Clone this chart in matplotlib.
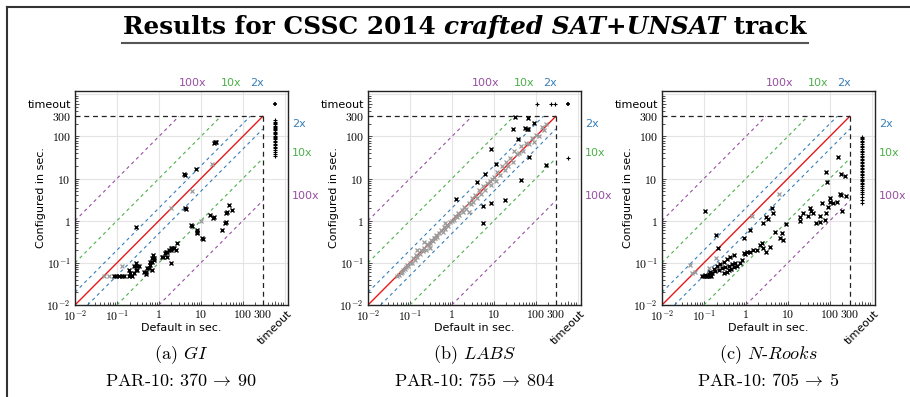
import matplotlib
matplotlib.use('Agg')
import matplotlib.pyplot as plt
from matplotlib.lines import Line2D
from matplotlib.transforms import blended_transform_factory as blend
from matplotlib.ticker import NullFormatter

plt.rcParams['mathtext.fontset'] = 'cm'
plt.rcParams['font.family'] = 'DejaVu Sans'

W, H = 910, 397
TIMEOUT = 600
CUTOFF = 300
LIM = (0.01, 1200)

# ---------------- data ----------------
gi_black_x = [0.28, 0.085, 0.093, 0.11, 0.13, 0.15, 0.19, 0.23, 0.21, 0.25, 0.28, 0.30, 0.19,
              0.25, 0.33, 0.30, 0.28, 0.44, 0.48, 0.48, 0.53, 0.58, 0.69, 0.63, 0.67, 0.69, 0.76,
              0.72, 0.76, 0.63, 1.2, 1.25, 1.4, 1.44, 1.58, 1.73, 1.9, 1.9, 2.1, 2.3, 2.7, 2.5,
              1.9, 1.58, 4.3, 4.5, 3.9, 4.2, 7.5, 21, 22, 23, 5.7, 6.0, 8.2, 8.0, 8.3, 10.8, 11.3,
              17, 20, 21, 32, 37, 39, 40, 43, 46, 56]
gi_black_y = [0.72, 0.05, 0.05, 0.05, 0.05, 0.05, 0.05, 0.05, 0.057, 0.057, 0.068, 0.068, 0.068,
              0.082, 0.082, 0.085, 0.098, 0.062, 0.062, 0.055, 0.075, 0.075, 0.066, 0.107, 0.107,
              0.128, 0.128, 0.154, 0.118, 0.09, 0.14, 0.14, 0.17, 0.185, 0.185, 0.2, 0.2, 0.22,
              0.22, 0.22, 0.29, 0.2, 0.098, 0.14, 1.96, 1.9, 13, 12.5, 17, 70, 73, 72, 0.79, 0.75,
              0.55, 0.5, 0.6, 0.38, 0.36, 1.36, 1.13, 1.2, 0.6, 0.9, 0.95, 1.55, 1.6, 2.3, 1.8]
gi_grey_x = [0.049, 0.064, 0.13, 1.9, 6.2, 18, 10]
gi_grey_y = [0.05, 0.05, 0.082, 1.96, 5.0, 22.6, 1.0]
gi_to_x_y = [240, 225, 210, 195, 180, 170, 160, 150, 140, 130, 120, 112, 105, 98, 92, 86, 80,
             74, 68, 62, 57, 52, 47, 43, 39, 35]          # default timed out
gi_to_y_x = []                                            # configured timed out
gi_both = 1

labs_black_x = [1.25, 3.9, 6.3, 8.7, 11, 5.6, 8.4, 5.4, 19, 44, 38, 28, 32, 55, 62, 66, 66, 89, 70, 173]
labs_black_y = [3.2, 8.4, 12.6, 51, 22, 2.2, 2.66, 0.87, 3.1, 9.5, 88, 147, 296, 156, 150, 150, 275,
                207, 32.5, 20.6]
labs_grey_x = [0.05, 0.055, 0.06, 0.065, 0.07, 0.075, 0.08, 0.085, 0.09, 0.1, 0.11, 0.12, 0.13,
               0.14, 0.15, 0.17, 0.18, 0.2, 0.22, 0.24, 0.25, 0.28, 0.3, 0.32, 0.35, 0.38, 0.4,
               0.42, 0.45, 0.5, 0.55, 0.6, 0.65, 0.7, 0.75, 0.8, 0.9, 1.0, 1.1, 1.2, 1.3, 1.4,
               1.5, 1.7, 1.8, 2.0, 2.2, 2.5, 2.8, 3.0, 3.2, 3.5, 4.0, 4.5, 5.0, 5.5, 6.0, 7.0,
               8.0, 8.5, 9.0, 10, 11, 12, 14, 16, 18, 20, 22, 25, 28, 30, 35, 40, 45, 50, 60,
               70, 80, 90, 100, 120, 140, 160, 180, 0.3, 0.15, 2.5, 0.7, 0.22]
labs_grey_y = [0.048, 0.052, 0.058, 0.06, 0.068, 0.07, 0.08, 0.09, 0.085, 0.1, 0.1, 0.13, 0.12,
               0.15, 0.14, 0.16, 0.2, 0.19, 0.23, 0.2, 0.28, 0.26, 0.3, 0.35, 0.33, 0.4, 0.38,
               0.45, 0.42, 0.5, 0.6, 0.55, 0.7, 0.65, 0.8, 0.75, 0.95, 1.0, 1.05, 1.3, 1.2, 1.5,
               1.4, 1.8, 1.6, 2.1, 1.9, 2.7, 2.5, 3.5, 2.8, 4.0, 3.5, 5.5, 4.2, 6.5, 5.5, 8.0,
               9.0, 7.0, 10, 11, 9.0, 14, 12, 20, 16, 25, 20, 30, 25, 45, 38, 40, 60, 45, 70,
               65, 90, 75, 110, 100, 170, 140, 200, 0.22, 0.2, 1.6, 0.9, 0.32]
labs_to_x_y = [31]
labs_to_y_x = [110, 230, 282]
labs_both = 2

nr_black_x = [0.108, 0.19, 0.22,
              0.143, 0.171, 0.205, 0.246, 0.296, 0.354, 0.425, 0.51,
              0.108, 0.13, 0.156, 0.187, 0.225, 0.27, 0.32, 0.39, 0.466, 0.56,
              0.09, 0.1, 0.11, 0.12, 0.13, 0.15,
              0.3, 0.35, 0.4, 0.45, 0.52, 0.6,
              0.73, 0.8, 0.88, 1.06, 1.27, 1.5, 1.8, 0.95,
              0.88, 1.27, 2.2, 2.6, 3.1, 3.3, 4.1, 4.5, 5.0, 6.5, 7.8, 7.1, 9.3, 2.6, 3.1, 3.8, 2.4,
              19.5, 23, 33, 40, 30, 48, 58, 76, 83, 91, 100, 120, 150, 188, 250, 198, 83, 88,
              157, 188, 226, 67, 100, 172, 20, 35, 60]
nr_black_y = [1.72, 0.46, 0.23,
              0.062, 0.071, 0.082, 0.093, 0.107, 0.122, 0.141, 0.154,
              0.052, 0.055, 0.059, 0.064, 0.068, 0.074, 0.079, 0.085, 0.092, 0.098,
              0.05, 0.05, 0.05, 0.05, 0.05, 0.05,
              0.058, 0.062, 0.066, 0.072, 0.078, 0.085,
              0.098, 0.12, 0.176, 0.185, 0.185, 0.2, 0.2, 0.16,
              0.38, 0.6, 0.27, 0.86, 1.24, 1.1, 1.96, 1.5, 0.55, 0.38, 0.35, 0.5, 0.83, 0.22,
              0.185, 0.24, 0.3,
              1.24, 1.49, 2.0, 1.5, 1.3, 0.86, 0.95, 1.04, 1.5, 2.1, 2.8, 2.57, 2.8, 4.0, 3.8,
              1.7, 14.4, 8.3, 32.5, 13, 11.3, 2.6, 3.4, 4.25, 1.0, 1.7, 1.3]
nr_grey_x = [0.047, 0.053, 0.13, 0.19, 1.39, 6.0, 0.06]
nr_grey_y = [0.089, 0.059, 0.075, 0.13, 1.3, 4.4, 0.06]
nr_to_x_y = [96, 90, 85, 78, 72, 66, 60, 55, 50, 46, 42, 38, 35, 32, 29, 27, 25, 23, 21, 19.5,
             18, 16.5, 15, 14, 13, 12, 11, 10, 9.3, 8.6, 8, 7.3, 6.7, 6, 5.4, 4.8, 4.2, 3.6,
             3.1, 2.6]
nr_to_y_x = []
nr_both = 0

panels = [
    dict(bx=gi_black_x, by=gi_black_y, gx=gi_grey_x, gy=gi_grey_y, tx=gi_to_x_y, ty=gi_to_y_x,
         both=gi_both, letter='a', name='GI', par=('370', '90')),
    dict(bx=labs_black_x, by=labs_black_y, gx=labs_grey_x, gy=labs_grey_y, tx=labs_to_x_y,
         ty=labs_to_y_x, both=labs_both, letter='b', name='LABS', par=('755', '804')),
    dict(bx=nr_black_x, by=nr_black_y, gx=nr_grey_x, gy=nr_grey_y, tx=nr_to_x_y, ty=nr_to_y_x,
         both=nr_both, letter='c', name='N-Rooks', par=('705', '5')),
]

factors = [2, 10, 100]
fcolors = {2: '#377eb8', 10: '#4daf4a', 100: '#984ea3'}
tick_vals = [0.01, 0.1, 1, 10, 100, 300, TIMEOUT]
tick_labels = [r'$10^{-2}$', r'$10^{-1}$', r'$1$', r'$10$', r'$100$', r'$300$', 'timeout']
grid_vals = [0.1, 1, 10, 100, 1000]

# ---------------- figure ----------------
fig = plt.figure(figsize=(W / 100, H / 100), dpi=100)


def fx(px):
    return px / W


def fy(py):
    return 1 - py / H


ax_left_px = [75, 368, 662]
ax_top_px, ax_bot_px, ax_w_px = 91, 305, 213

for p, lpx in zip(panels, ax_left_px):
    ax = fig.add_axes([fx(lpx), fy(ax_bot_px), ax_w_px / W, (ax_bot_px - ax_top_px) / H])
    ax.set_xscale('log')
    ax.set_yscale('log')
    ax.set_xlim(*LIM)
    ax.set_ylim(*LIM)
    for g in grid_vals:
        ax.axvline(g, color='#e4e4e4', lw=0.8, zorder=0)
        ax.axhline(g, color='#e4e4e4', lw=0.8, zorder=0)
    # reference lines
    ax.plot([0.01, CUTOFF], [0.01, CUTOFF], color='#e41a1c', lw=1.0, zorder=2)
    for k in factors:
        c = fcolors[k]
        ax.plot([0.01, CUTOFF / k], [0.01 * k, CUTOFF], color=c, lw=0.8, dashes=(3, 3), zorder=2)
        ax.plot([0.01 * k, CUTOFF], [0.01, CUTOFF / k], color=c, lw=0.8, dashes=(3, 3), zorder=2)
        ax.text(CUTOFF / k, 1.012, f'{k}x', color=c, fontsize=8, ha='left', va='bottom',
                transform=blend(ax.transData, ax.transAxes))
        ax.text(1.02, CUTOFF / k, f'{k}x', color=c, fontsize=8, ha='left', va='bottom',
                transform=blend(ax.transAxes, ax.transData))
    ax.plot([CUTOFF, CUTOFF], [0.01, CUTOFF], color='#222222', lw=0.9, dashes=(4, 3), zorder=2)
    ax.plot([0.01, CUTOFF], [CUTOFF, CUTOFF], color='#222222', lw=0.9, dashes=(4, 3), zorder=2)
    # data
    ax.plot(p['gx'], p['gy'], ls='none', marker='x', ms=3, mew=0.9, color='#9a9a9a', zorder=3)
    ax.plot(p['bx'], p['by'], ls='none', marker='x', ms=3, mew=1.0, color='black', zorder=4)
    if p['tx']:
        ax.plot([TIMEOUT] * len(p['tx']), p['tx'], ls='none', marker='+', ms=3, mew=0.8,
                color='black', zorder=4)
    if p['ty']:
        ax.plot(p['ty'], [TIMEOUT] * len(p['ty']), ls='none', marker='+', ms=3, mew=0.8,
                color='black', zorder=4)
    if p['both']:
        ax.plot([TIMEOUT], [TIMEOUT], ls='none', marker='+', ms=3, mew=1.2, color='black',
                zorder=4)
    # ticks
    ax.set_xticks(tick_vals)
    ax.set_xticklabels(tick_labels)
    ax.set_yticks(tick_vals)
    ax.set_yticklabels(tick_labels)
    ax.xaxis.set_minor_formatter(NullFormatter())
    ax.yaxis.set_minor_formatter(NullFormatter())
    ax.tick_params(which='both', direction='in', width=0.6, colors='#333333',
                   labelcolor='black', labelsize=8.5)
    ax.tick_params(which='major', length=3)
    ax.tick_params(which='minor', length=2)
    ax.tick_params(axis='x', pad=2.5)
    ax.tick_params(axis='y', pad=3)
    xl = ax.get_xticklabels()[-1]
    xl.set_rotation(45)
    xl.set_fontsize(8)
    yl = ax.get_yticklabels()[-1]
    yl.set_fontsize(8)
    for s in ax.spines.values():
        s.set_color('#222222')
        s.set_linewidth(1.0)
    ax.set_xlabel('Default in sec.', fontsize=8)
    ax.set_ylabel('Configured in sec.', fontsize=8)
    ax.xaxis.set_label_coords(0.5, -0.082)
    ax.yaxis.set_label_coords(-0.136, 0.5)
    # captions
    cx = fx(lpx + ax_w_px / 2)
    fig.text(cx, fy(355), r'(%s) $\mathit{%s}$' % (p['letter'], p['name'].replace('-', '}$-$\\mathit{')),
             fontfamily='cmr10', fontsize=13, ha='center', va='center')
    fig.text(cx, fy(380), r'PAR-10: $%s\:\rightarrow\:%s$' % p['par'],
             fontfamily='cmr10', fontsize=13, ha='center', va='center')

# ---------------- title ----------------
renderer = fig.canvas.get_renderer()
title_pieces = [
    ('Results for CSSC 2014 ', dict(fontfamily='DejaVu Serif', fontweight='bold')),
    ('crafted SAT+UNSAT', dict(fontfamily='DejaVu Serif', fontweight='bold', fontstyle='italic')),
    (' track', dict(fontfamily='DejaVu Serif', fontweight='bold')),
]
TARGET_W = 686
fs = 15.0
for attempt in range(2):
    texts = [fig.text(0, fy(34), s, fontsize=fs, va='baseline', **kw) for s, kw in title_pieces]
    widths = [t.get_window_extent(renderer).width for t in texts]
    total = sum(widths)
    if attempt == 0:
        for t in texts:
            t.remove()
        fs = fs * TARGET_W / total
    else:
        x = 465 - total / 2
        for t, w in zip(texts, widths):
            t.set_x(fx(x))
            x += w

fig.add_artist(Line2D([fx(122), fx(808)], [fy(43), fy(43)], color='#555555', lw=1.5))
fig.add_artist(Line2D([fx(7), fx(910)], [fy(7), fy(7)], color='#333333', lw=1.5))
fig.add_artist(Line2D([fx(7), fx(7)], [fy(7), fy(397)], color='#333333', lw=1.5))

fig.savefig('out.png', dpi=100)
